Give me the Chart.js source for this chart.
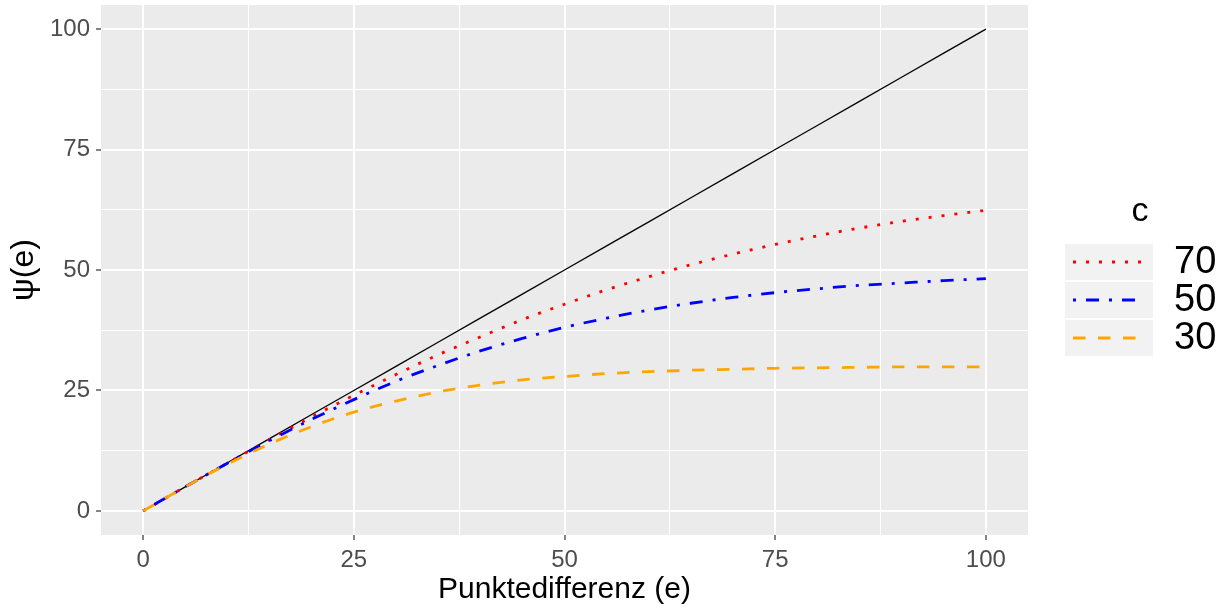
<!DOCTYPE html>
<html>
<head>
<meta charset="utf-8">
<script src="https://cdn.jsdelivr.net/npm/chart.js@4"></script>
<style>
  html, body { margin: 0; padding: 0; background: #fff; }
  #wrap { width: 1230px; height: 611px; }
</style>
</head>
<body>
<div id="wrap"><canvas id="psiChart" width="1230" height="611"></canvas></div>
<script>
// Daten
const punktdifferenz = [0, 5, 10, 15, 20, 25, 30, 35, 40, 45, 50, 55, 60, 65, 70, 75, 80, 85, 90, 95, 100];
const psiOhne = [0, 5, 10, 15, 20, 25, 30, 35, 40, 45, 50, 55, 60, 65, 70, 75, 80, 85, 90, 95, 100];
const psi70 = [0, 5.0, 9.9, 14.8, 19.5, 24.0, 28.3, 32.4, 36.1, 39.7, 42.9, 45.9, 48.6, 51.1, 53.3, 55.3, 57.1, 58.7, 60.1, 61.3, 62.4];
const psi50 = [0, 5.0, 9.9, 14.6, 19.0, 23.1, 26.9, 30.2, 33.2, 35.8, 38.1, 40.0, 41.7, 43.1, 44.3, 45.3, 46.1, 46.8, 47.3, 47.8, 48.2];
const psi30 = [0, 5.0, 9.7, 13.9, 17.5, 20.5, 22.8, 24.7, 26.1, 27.2, 27.9, 28.5, 28.9, 29.2, 29.4, 29.6, 29.7, 29.8, 29.9, 29.9, 29.9];
const cWerte = ['70', '50', '30'];
const achsenTicks = [0, 25, 50, 75, 100];
const gitterWerte = [0, 12.5, 25, 37.5, 50, 62.5, 75, 87.5, 100];

const schrift = '"Liberation Sans", Arial, sans-serif';

function punkte(werte) {
  return punktdifferenz.map((e, i) => ({ x: e, y: werte[i] }));
}

// Hintergrund des Panels (ggplot grau)
const panelHintergrund = {
  id: 'panelHintergrund',
  beforeDraw(chart) {
    const { ctx, chartArea: a } = chart;
    ctx.save();
    ctx.fillStyle = '#EBEBEB';
    ctx.fillRect(a.left, a.top, a.right - a.left, a.bottom - a.top);
    ctx.restore();
  }
};

// Legende im ggplot-Stil
const ggLegende = {
  id: 'ggLegende',
  afterDraw(chart) {
    const ctx = chart.ctx;
    const x0 = 1064, w = 90, h = 38, y0 = 243;
    ctx.save();
    ctx.fillStyle = '#000';
    ctx.font = '34px ' + schrift;
    ctx.textAlign = 'center';
    ctx.textBaseline = 'middle';
    ctx.fillText('c', 1140, 212);

    chart.data.datasets.filter(d => d.label).forEach((d, i) => {
      const y = y0 + i * h;
      ctx.fillStyle = '#F2F2F2';
      ctx.fillRect(x0, y, w, h);
      ctx.strokeStyle = '#FFFFFF';
      ctx.lineWidth = 1;
      ctx.strokeRect(x0 + 0.5, y + 0.5, w - 1, h - 1);

      ctx.beginPath();
      ctx.strokeStyle = d.borderColor;
      ctx.lineWidth = d.borderWidth;
      ctx.lineCap = 'butt';
      ctx.setLineDash(d.borderDash || []);
      ctx.moveTo(x0 + 9, y + h / 2);
      ctx.lineTo(x0 + w - 9, y + h / 2);
      ctx.stroke();
      ctx.setLineDash([]);

      ctx.fillStyle = '#000';
      ctx.font = '38px ' + schrift;
      ctx.textAlign = 'left';
      ctx.fillText(d.label, 1174, y + h / 2 + 1);
    });
    ctx.restore();
  }
};

function achse(titel, titelPadding, groesse, titelGroesse) {
  return {
    type: 'linear',
    min: -5,
    max: 105,
    afterBuildTicks: s => { s.ticks = gitterWerte.map(v => ({ value: v })); },
    afterFit: s => {
      if (s.isHorizontal()) s.height = groesse; else s.width = groesse;
      s.paddingTop = 0;
      s.paddingBottom = 0;
      s.paddingLeft = 0;
      s.paddingRight = 0;
    },
    border: { display: false },
    grid: {
      color: '#FFFFFF',
      lineWidth: c => (c.tick && c.tick.value % 25 === 0 ? 2 : 1),
      tickLength: 5,
      tickWidth: 1.2,
      tickColor: c => (c.tick && c.tick.value % 25 === 0 ? '#333333' : 'rgba(0,0,0,0)')
    },
    ticks: {
      autoSkip: false,
      maxRotation: 0,
      padding: 6,
      color: '#4D4D4D',
      font: { family: schrift, size: 24 },
      callback: v => (achsenTicks.includes(v) ? String(v) : '')
    },
    title: {
      display: true,
      text: titel,
      color: '#000',
      font: { family: schrift, size: titelGroesse },
      padding: titelPadding
    }
  };
}

new Chart(document.getElementById('psiChart'), {
  type: 'line',
  data: {
    datasets: [
      {
        data: punkte(psiOhne),
        borderColor: '#000000',
        borderWidth: 1.3,
        pointRadius: 0,
        order: 4
      },
      {
        label: cWerte[0],
        data: punkte(psi70),
        borderColor: '#FF0000',
        borderWidth: 2.8,
        borderDash: [3, 10],
        pointRadius: 0,
        cubicInterpolationMode: 'monotone',
        order: 3
      },
      {
        label: cWerte[1],
        data: punkte(psi50),
        borderColor: '#0000FF',
        borderWidth: 2.8,
        borderDash: [3, 10, 13, 10],
        pointRadius: 0,
        cubicInterpolationMode: 'monotone',
        order: 2
      },
      {
        label: cWerte[2],
        data: punkte(psi30),
        borderColor: '#FFA500',
        borderWidth: 2.8,
        borderDash: [12.5, 12.5],
        pointRadius: 0,
        cubicInterpolationMode: 'monotone',
        order: 1
      }
    ]
  },
  options: {
    responsive: false,
    animation: false,
    layout: { padding: { left: 0, right: 202, top: 5, bottom: 0 } },
    plugins: {
      legend: { display: false },
      tooltip: { enabled: false }
    },
    scales: {
      x: achse('Punktedifferenz (e)', { top: 0, bottom: 3 }, 76, 30),
      y: achse('\u03C8(e)', { top: 5, bottom: 0 }, 101, 32)
    }
  },
  plugins: [panelHintergrund, ggLegende]
});
</script>
</body>
</html>
